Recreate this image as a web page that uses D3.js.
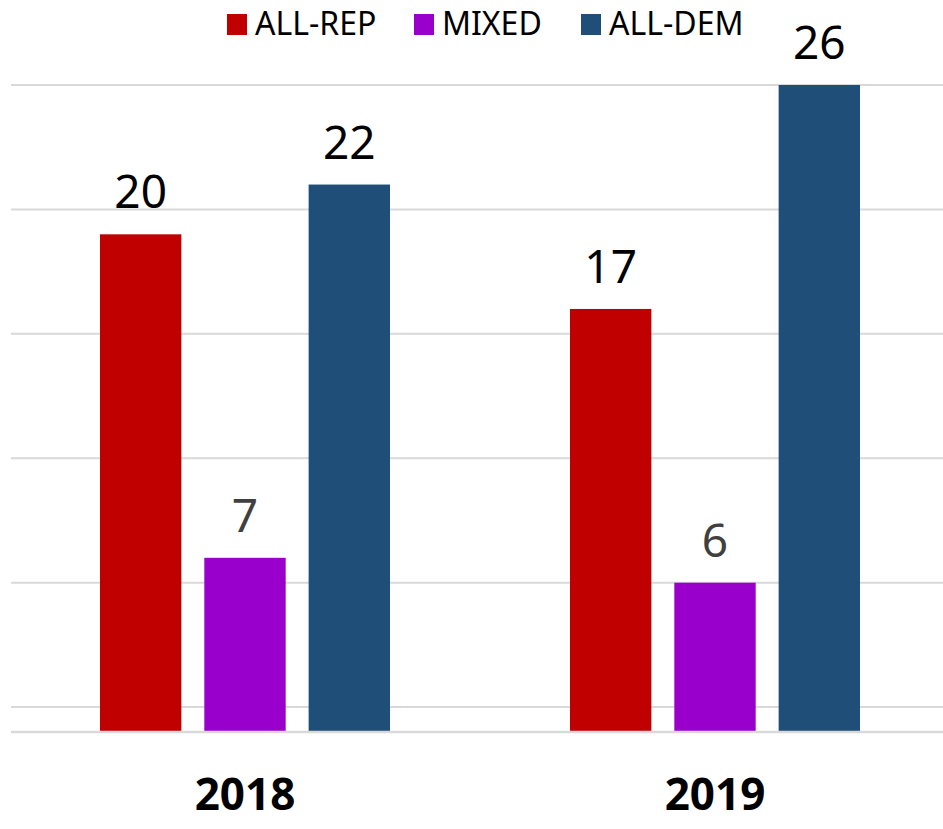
<!DOCTYPE html>
<html lang="en">
<head>
<meta charset="utf-8">
<title>Chart</title>
<script src="https://d3js.org/d3.v7.min.js"></script>
<style>
  body { margin: 0; background: #fff; }
  svg { display: block; font-family: "Noto Sans", "Open Sans", sans-serif; }
</style>
</head>
<body>
<script>
// data
var years = ["2018", "2019"];
var seriesNames = ["ALL-REP", "MIXED", "ALL-DEM"];
var allRep = [20, 17];
var mixed = [7, 6];
var allDem = [22, 26];
var gridValues = [1, 6, 11, 16, 21, 26];

var colors = ["#c00000", "#9900cc", "#1f4e79"];
var labelColors = ["#000", "#404040", "#000"];
var seriesValues = [allRep, mixed, allDem];

var width = 943, height = 829;

var svg = d3.select("body").append("svg")
  .attr("width", width)
  .attr("height", height);

// scales
var x0 = d3.scaleBand().domain(years).range([10, 950]).paddingInner(0).paddingOuter(0);
var x1 = d3.scaleBand().domain(seriesNames).range([90, 380]).paddingInner(0.22).paddingOuter(0);
var y = d3.scaleLinear().domain([0, 26]).range([732, 85]);

// gridlines
svg.append("g").selectAll("line")
  .data(gridValues)
  .enter().append("line")
  .attr("x1", 11).attr("x2", width)
  .attr("y1", function(d) { return y(d); })
  .attr("y2", function(d) { return y(d); })
  .attr("stroke", "#d9d9d9")
  .attr("stroke-width", 2);

// bars
var rows = [];
years.forEach(function(yr, i) {
  seriesNames.forEach(function(s, j) {
    rows.push({ year: yr, series: s, idx: j, value: seriesValues[j][i] });
  });
});

var bars = svg.append("g");
bars.selectAll("rect")
  .data(rows)
  .enter().append("rect")
  .attr("x", function(d) { return x0(d.year) + x1(d.series); })
  .attr("width", x1.bandwidth())
  .attr("y", function(d) { return y(d.value); })
  .attr("height", function(d) { return y(0) - y(d.value); })
  .attr("fill", function(d) { return colors[d.idx]; });

// value labels
svg.append("g").selectAll("text")
  .data(rows)
  .enter().append("text")
  .attr("x", function(d) { return x0(d.year) + x1(d.series) + x1.bandwidth() / 2; })
  .attr("y", function(d) { return y(d.value) - 26; })
  .attr("text-anchor", "middle")
  .attr("font-size", 46)
  .attr("fill", function(d) { return labelColors[d.idx]; })
  .text(function(d) { return d.value; });

// baseline
svg.append("line")
  .attr("x1", 11).attr("x2", width)
  .attr("y1", y(0)).attr("y2", y(0))
  .attr("stroke", "#d9d9d9")
  .attr("stroke-width", 2.5);

// x axis labels
svg.append("g").selectAll("text")
  .data(years)
  .enter().append("text")
  .attr("x", function(d) { return x0(d) + x0.bandwidth() / 2; })
  .attr("y", 810)
  .attr("text-anchor", "middle")
  .attr("font-size", 44)
  .attr("font-weight", "bold")
  .attr("fill", "#000")
  .text(function(d) { return d; });

// legend
var legendX = [227, 414, 581];
var legend = svg.append("g").selectAll("g")
  .data(seriesNames)
  .enter().append("g")
  .attr("transform", function(d, i) { return "translate(" + legendX[i] + ",14)"; });

legend.append("rect")
  .attr("width", 20).attr("height", 21)
  .attr("fill", function(d, i) { return colors[i]; });

legend.append("text")
  .attr("x", 28)
  .attr("y", 21)
  .attr("font-size", 32)
  .attr("fill", "#000")
  .text(function(d) { return d; });
</script>
</body>
</html>
